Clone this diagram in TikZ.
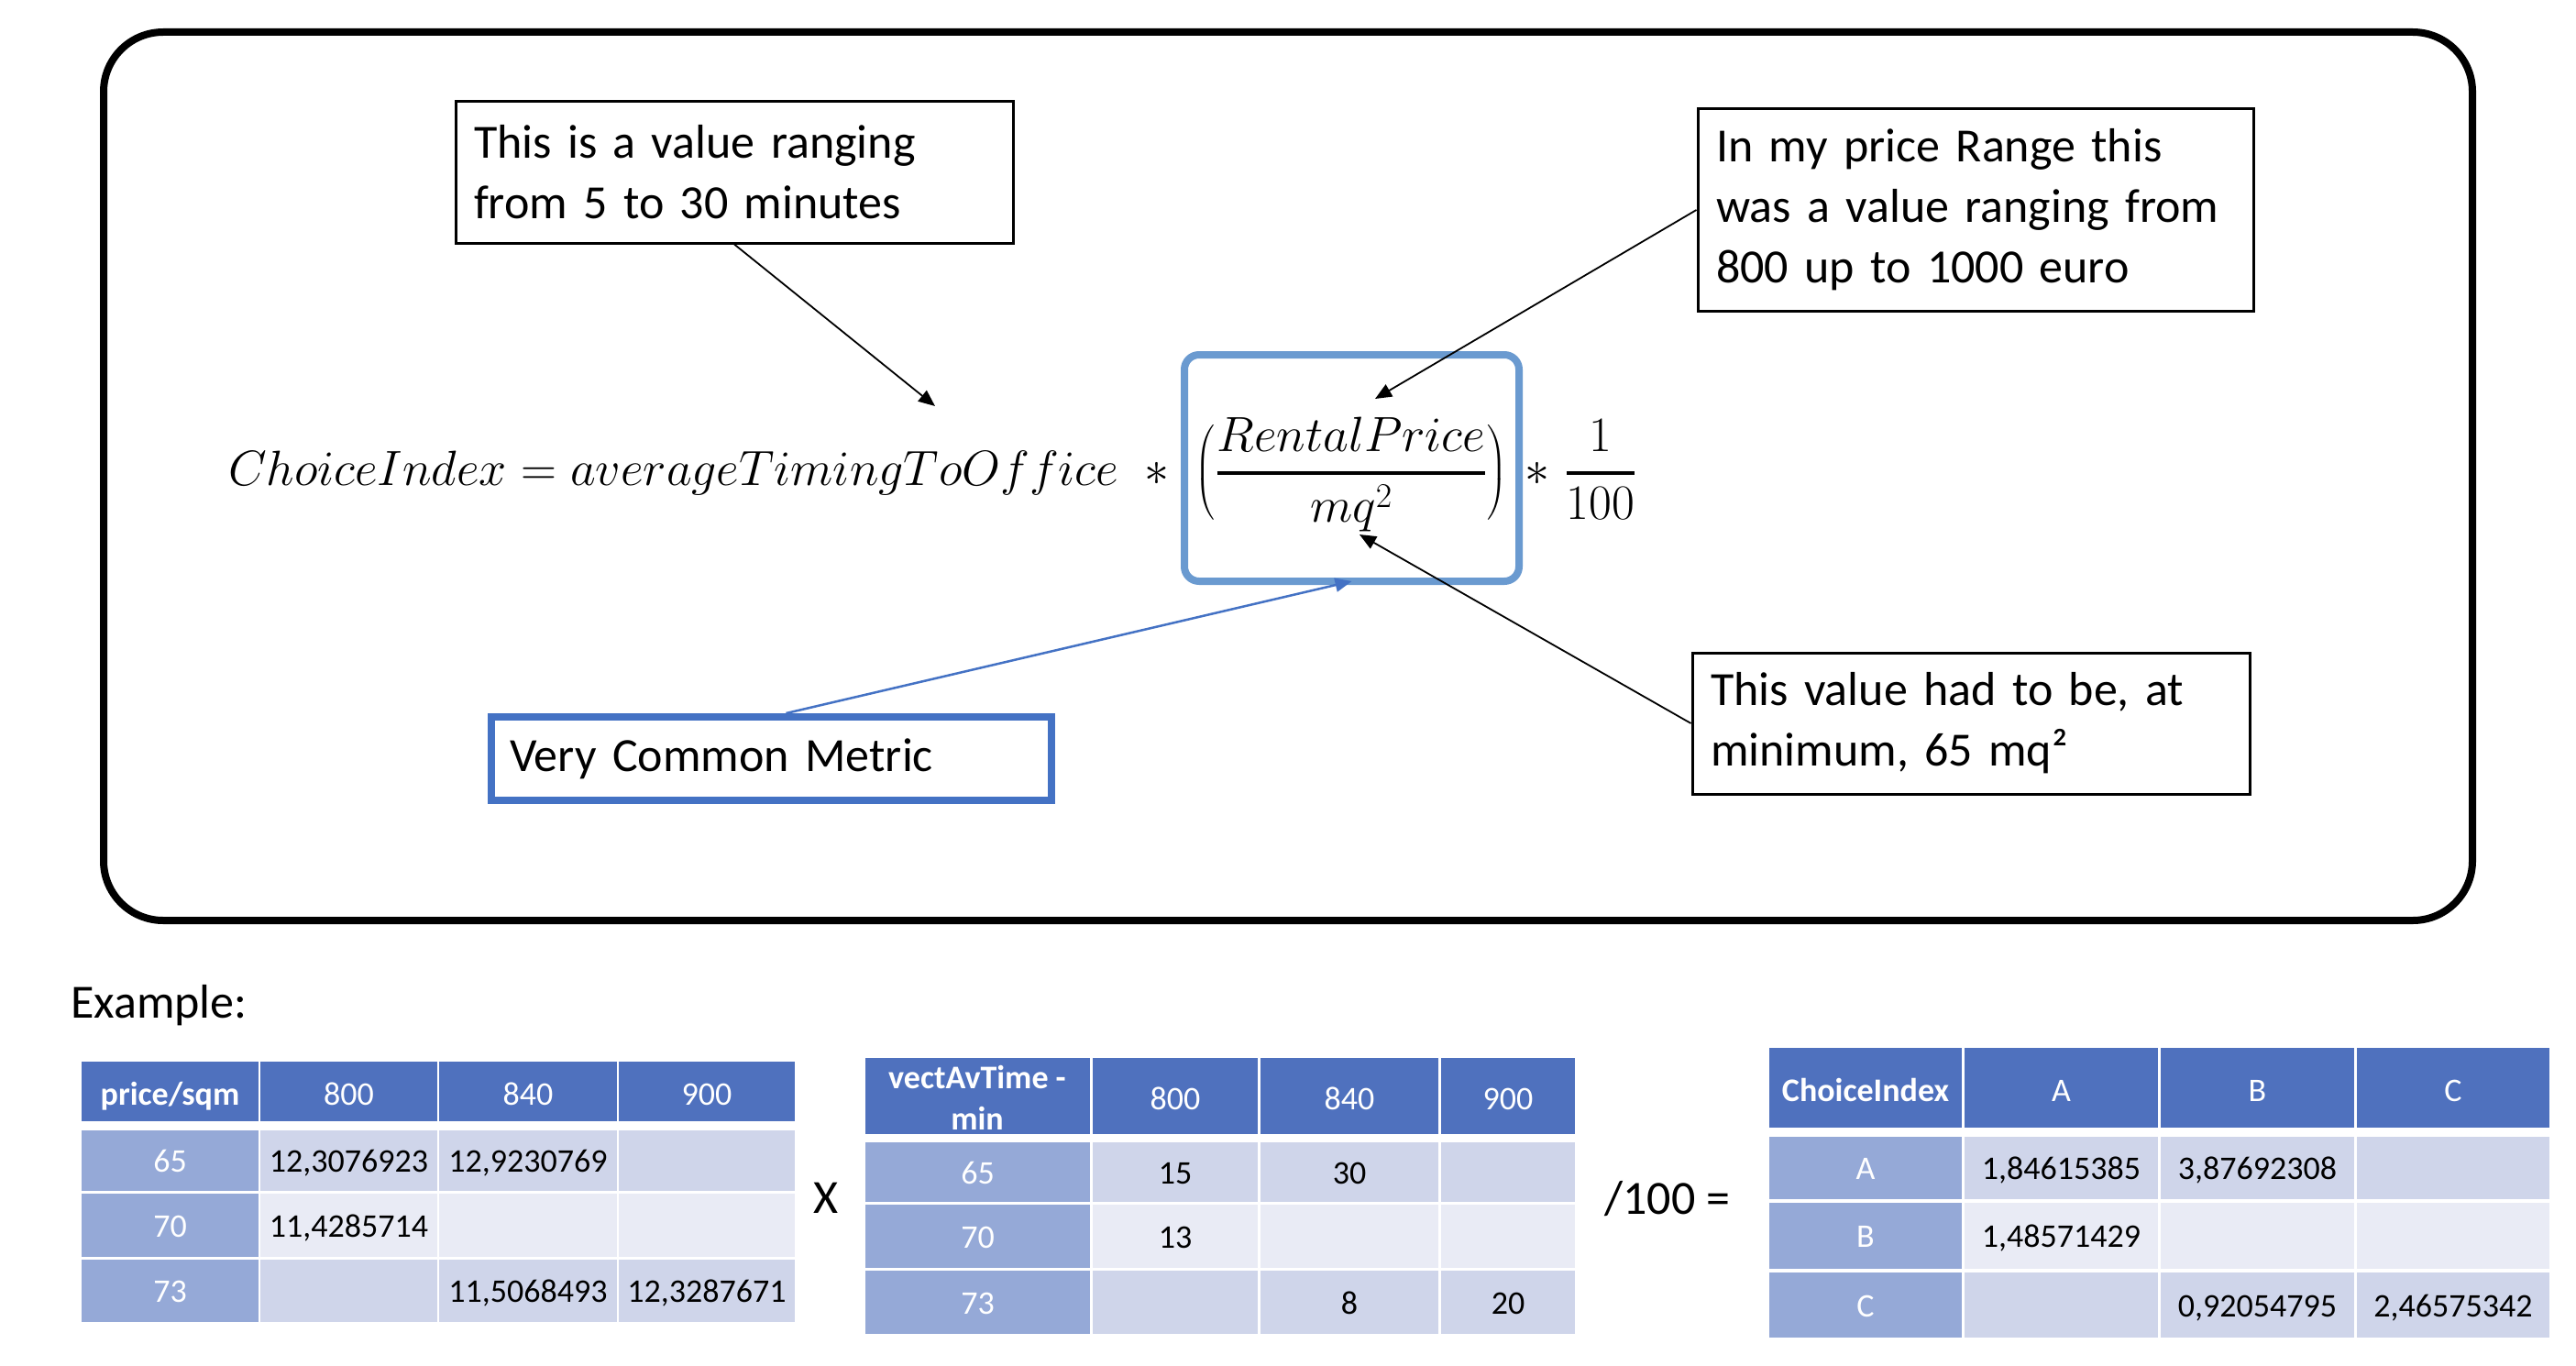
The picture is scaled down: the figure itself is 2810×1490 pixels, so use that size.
\RequirePackage{fix-cm}
\documentclass[tikz,border=0pt]{standalone}
\usepackage{exscale}
\usepackage[no-math]{fontspec}
\setmainfont{Carlito}
\usetikzlibrary{arrows.meta,calc}
\definecolor{hdr}{RGB}{79,113,190}
\definecolor{fcol}{RGB}{149,169,215}
\definecolor{rowA}{RGB}{207,213,234}
\definecolor{rowB}{RGB}{233,235,245}
\definecolor{fracblue}{RGB}{106,154,208}
\definecolor{metricblue}{RGB}{68,114,196}
\newcommand{\tcell}[7]{\node[cellbox,#6,minimum width={#4-#2},minimum height={#5-#3}] (#1) at ({(#2+#4)/2},{(#3+#5)/2}) {#7};}
\newcommand{\myLparen}{\mathopen{\hbox{$\left(\vcenter to95pt{}\right.$}}}
\newcommand{\myRparen}{\mathclose{\hbox{$\left.\vcenter to95pt{}\right)$}}}
\tikzset{
  note/.style={draw=black, line width=3pt, inner xsep=20pt, inner ysep=0pt, align=left,
    font=\fontsize{52}{66}\selectfont},
  mathtext/.style={inner sep=0pt, font=\fontsize{54}{66}\selectfont},
  plaintext/.style={inner sep=0pt, font=\fontsize{52}{66}\selectfont},
  pointer/.style={draw=black, line width=1.8pt, -{Triangle[length=18pt,width=15pt]}},
  bluepointer/.style={draw=metricblue, line width=2.5pt, -{Triangle[length=18pt,width=15pt]}},
  cellbox/.style={inner sep=0pt, outer sep=0pt, draw=none, text depth=0pt,
    font=\fontsize{36}{44}\selectfont, text height=25pt},
  hcell/.style={fill=hdr, text=white, text height=30pt},
  hbold/.style={hcell, font=\fontsize{36}{44}\selectfont\bfseries},
  fcell/.style={fill=fcol, text=white},
  acell/.style={fill=rowA, text=black},
  bcell/.style={fill=rowB, text=black}
}
\begin{document}
\begin{tikzpicture}[x=1pt,y=-1pt]
\useasboundingbox (0,0) rectangle (2810,1490);
% outer frame
\node[draw=black, line width=8pt, rounded corners=65pt, minimum width=2584pt, minimum height=969pt, inner sep=0pt] (frame) at (1405,519.5) {};
% equation
\node[draw=fracblue, line width=8pt, rounded corners=16pt, minimum width=365pt, minimum height=247pt, inner sep=0pt, outer sep=0pt] (fracbox) at (1474.5,510.5) {};
\node[mathtext, anchor=base west] (eqlhs) at (249,529) {$ChoiceIndex = averageTimingToOffice$};
\node[mathtext, anchor=base] (astA) at (1262,529) {$\ast$};
\node[mathtext, anchor=base] (fracexpr) at (1474,529) {$\displaystyle\myLparen{RentalPrice\above4pt mq^2}\myRparen$};
\node[mathtext, anchor=base] (astB) at (1677,529) {$\ast$};
\node[mathtext, anchor=base] (hundred) at (1746,529) {$\displaystyle{1\above4pt 100}$};
% notes
\node[note, minimum width=608pt, minimum height=154pt, text width=568pt] (box1) at (801,188) {This is a value ranging\\from 5 to 30 minutes};
\node[note, minimum width=606pt, minimum height=220pt, text width=566pt] (box2) at (2155,229) {In my price Range this\\was a value ranging from\\800 up to 1000 euro};
\node[note, minimum width=608pt, minimum height=154pt, text width=568pt] (box4) at (2150,789) {This value had to be, at\\minimum, 65 mq²};
\node[note, draw=metricblue, line width=8pt, minimum width=611pt, minimum height=91pt, text width=571pt] (box3) at (841.5,827.5) {Very Common Metric};
% arrows
\coordinate (tipA) at (1020,443);
\coordinate (tipB) at (1500,435);
\coordinate (tipC) at (1483,583);
\draw[pointer] (box1.south) -- (tipA);
\draw[pointer] (box2.west) -- (tipB);
\draw[pointer] (box4.west) -- (tipC);
\draw[bluepointer] ($(box3.north)+(16,0)$) -- (fracbox.south);
% example labels
\node[plaintext, anchor=base west] (example) at (77,1110) {Example:};
\node[plaintext, anchor=base] (times) at (901,1323) {X};
\node[plaintext, anchor=base west] (divide) at (1750,1324) {/100 =};
% table 1
\tcell{ta00}{89}{1158}{282}{1223}{hbold}{price/sqm}
\tcell{ta01}{284}{1158}{477}{1223}{hcell}{800}
\tcell{ta02}{479}{1158}{673}{1223}{hcell}{840}
\tcell{ta03}{675}{1158}{867}{1223}{hcell}{900}
\tcell{ta10}{89}{1233}{282}{1299}{fcell}{65}
\tcell{ta11}{284}{1233}{477}{1299}{acell}{12,3076923}
\tcell{ta12}{479}{1233}{673}{1299}{acell}{12,9230769}
\tcell{ta13}{675}{1233}{867}{1299}{acell}{}
\tcell{ta20}{89}{1302}{282}{1371}{fcell}{70}
\tcell{ta21}{284}{1302}{477}{1371}{bcell}{11,4285714}
\tcell{ta22}{479}{1302}{673}{1371}{bcell}{}
\tcell{ta23}{675}{1302}{867}{1371}{bcell}{}
\tcell{ta30}{89}{1374}{282}{1442}{fcell}{73}
\tcell{ta31}{284}{1374}{477}{1442}{acell}{}
\tcell{ta32}{479}{1374}{673}{1442}{acell}{11,5068493}
\tcell{ta33}{675}{1374}{867}{1442}{acell}{12,3287671}
% table 2
\tcell{tb00}{944}{1154}{1189}{1237}{hcell}{}
\node[cellbox, text=white, font=\fontsize{36}{44}\selectfont\bfseries, anchor=base] (tb00a) at (1066,1187) {vectAvTime -};
\node[cellbox, text=white, font=\fontsize{36}{44}\selectfont\bfseries, anchor=base] (tb00b) at (1066,1232) {min};
\tcell{tb01}{1192}{1154}{1372}{1237}{hcell}{800}
\tcell{tb02}{1375}{1154}{1569}{1237}{hcell}{840}
\tcell{tb03}{1572}{1154}{1718}{1237}{hcell}{900}
\tcell{tb10}{944}{1246}{1189}{1311}{fcell}{65}
\tcell{tb11}{1192}{1246}{1372}{1311}{acell}{15}
\tcell{tb12}{1375}{1246}{1569}{1311}{acell}{30}
\tcell{tb13}{1572}{1246}{1718}{1311}{acell}{}
\tcell{tb20}{944}{1314}{1189}{1383}{fcell}{70}
\tcell{tb21}{1192}{1314}{1372}{1383}{bcell}{13}
\tcell{tb22}{1375}{1314}{1569}{1383}{bcell}{}
\tcell{tb23}{1572}{1314}{1718}{1383}{bcell}{}
\tcell{tb30}{944}{1386}{1189}{1455}{fcell}{73}
\tcell{tb31}{1192}{1386}{1372}{1455}{acell}{}
\tcell{tb32}{1375}{1386}{1569}{1455}{acell}{8}
\tcell{tb33}{1572}{1386}{1718}{1455}{acell}{20}
% table 3
\tcell{tc00}{1930}{1143}{2140}{1230}{hbold}{ChoiceIndex}
\tcell{tc01}{2143}{1143}{2354}{1230}{hcell}{A}
\tcell{tc02}{2357}{1143}{2568}{1230}{hcell}{B}
\tcell{tc03}{2571}{1143}{2781}{1230}{hcell}{C}
\tcell{tc10}{1930}{1240}{2140}{1308}{fcell}{A}
\tcell{tc11}{2143}{1240}{2354}{1308}{acell}{1,84615385}
\tcell{tc12}{2357}{1240}{2568}{1308}{acell}{3,87692308}
\tcell{tc13}{2571}{1240}{2781}{1308}{acell}{}
\tcell{tc20}{1930}{1312}{2140}{1384}{fcell}{B}
\tcell{tc21}{2143}{1312}{2354}{1384}{bcell}{1,48571429}
\tcell{tc22}{2357}{1312}{2568}{1384}{bcell}{}
\tcell{tc23}{2571}{1312}{2781}{1384}{bcell}{}
\tcell{tc30}{1930}{1388}{2140}{1459}{fcell}{C}
\tcell{tc31}{2143}{1388}{2354}{1459}{acell}{}
\tcell{tc32}{2357}{1388}{2568}{1459}{acell}{0,92054795}
\tcell{tc33}{2571}{1388}{2781}{1459}{acell}{2,46575342}
\end{tikzpicture}
\end{document}
